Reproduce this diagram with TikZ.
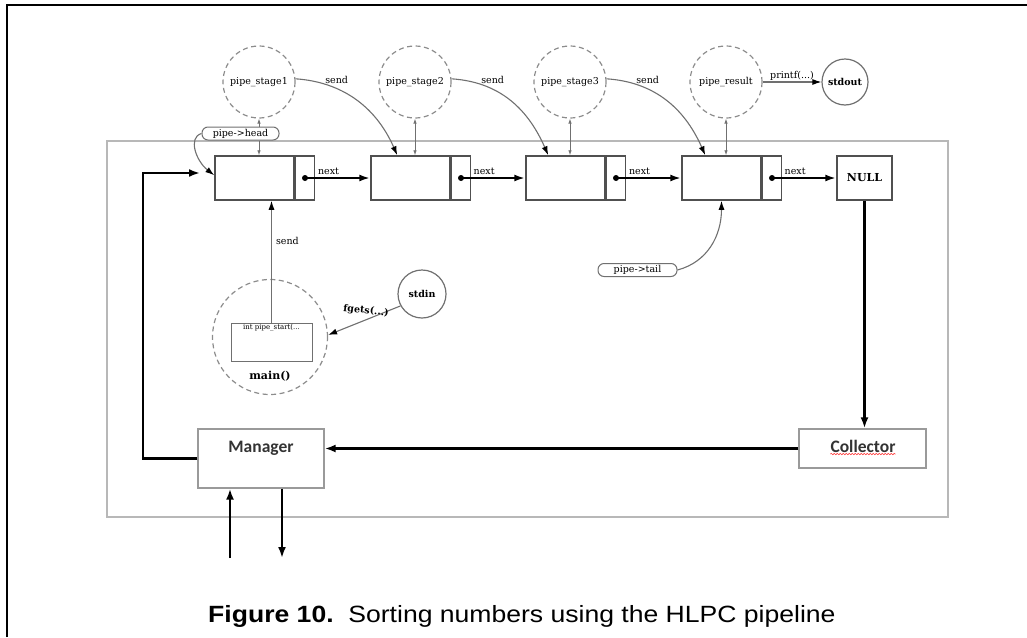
\documentclass[tikz,border=0pt]{standalone}
\usepackage{fontspec}
\setmainfont{DejaVu Serif}
\newfontfamily\capfont{Liberation Sans}
\newfontfamily\boxfont{Carlito}
\usetikzlibrary{arrows.meta,calc,decorations.pathmorphing}

\definecolor{framegrey}{HTML}{B8B8B8}
\definecolor{dashgrey}{HTML}{8C8C8C}
\definecolor{cellgrey}{HTML}{505050}
\definecolor{linkgrey}{HTML}{707070}
\definecolor{boxgrey}{HTML}{9A9A9A}

\begin{document}
\begin{tikzpicture}[x=1pt,y=-1pt,
  lbl/.style={font=\fontsize{9.5}{11}\selectfont, inner sep=1pt},
  blbl/.style={font=\fontsize{9.5}{11}\selectfont\bfseries, inner sep=1pt},
  cell/.style={draw=cellgrey, line width=1.5pt, minimum height=44pt, inner sep=0pt},
  dcell/.style={cell, minimum width=79pt},
  pcell/.style={cell, minimum width=19pt, anchor=west},
  dot/.style={circle, fill=black, inner sep=0pt, minimum size=6pt},
  stage/.style={circle, draw=dashgrey, dash pattern=on 5pt off 3.5pt, line width=1.2pt,
    minimum size=72pt, inner sep=0pt, font=\fontsize{9.5}{11}\selectfont},
  io/.style={circle, draw=linkgrey, line width=1.2pt, inner sep=0pt,
    font=\fontsize{9.5}{11}\selectfont\bfseries},
  ptr/.style={draw=linkgrey, fill=white, line width=1pt, rounded corners=6pt, inner sep=0pt,
    minimum height=13pt, font=\fontsize{9.5}{11}\selectfont},
  proc/.style={draw=boxgrey, line width=1.3pt, inner sep=0pt},
  proctext/.style={font=\boxfont\bfseries\fontsize{17.5}{20}\selectfont, text=black!80, inner sep=0pt},
  flow/.style={line width=2.6pt, -{Latex[length=11pt,width=8pt]}},
  nextarrow/.style={line width=2.2pt, -{Latex[length=11pt,width=7pt]}},
  sendarrow/.style={draw=linkgrey, line width=1.1pt, -{Latex[length=9pt,width=6pt,color=black]}},
  thinlink/.style={draw=linkgrey, line width=0.8pt},
  tinytip/.tip={Latex[length=5pt,width=3.5pt]},
]
\useasboundingbox (0,0) rectangle (1027,637);

% page edge
\draw[line width=2.5pt] (7,637) -- (7,5) -- (1027,5);

% enclosing frame of the pipeline
\draw[framegrey, line width=2pt] (107,141) rectangle (948,517);

% linked list cells
\node[dcell] (d1) at (254.5,178) {};
\node[pcell] (p1) at (d1.east) {};
\node[dcell] (d2) at (410.5,178) {};
\node[pcell] (p2) at (d2.east) {};
\node[dcell] (d3) at (565.5,178) {};
\node[pcell] (p3) at (d3.east) {};
\node[dcell] (d4) at (721.5,178) {};
\node[pcell] (p4) at (d4.east) {};
\node[cell, minimum width=55pt, font=\fontsize{11}{13}\selectfont\bfseries] (null) at (864.5,178) {NULL};

\node[dot] (n1) at (p1.center) {};
\node[dot] (n2) at (p2.center) {};
\node[dot] (n3) at (p3.center) {};
\node[dot] (n4) at (p4.center) {};

\draw[nextarrow] (n1.center) -- (d2.west) node[lbl, pos=0.36, above=1pt] {next};
\draw[nextarrow] (n2.center) -- (d3.west) node[lbl, pos=0.36, above=1pt] {next};
\draw[nextarrow] (n3.center) -- (d4.west) node[lbl, pos=0.36, above=1pt] {next};
\draw[nextarrow] (n4.center) -- (null.west) node[lbl, pos=0.36, above=1pt] {next};

% pipeline stages
\node[stage] (s1) at (259,82) {pipe\_stage1};
\node[stage] (s2) at (415,82) {pipe\_stage2};
\node[stage] (s3) at (570,82) {pipe\_stage3};
\node[stage] (res) at (726,82) {pipe\_result};
\node[io, minimum size=46pt] (out) at (845,82) {stdout};

% head and tail pointers
\node[ptr, minimum width=77pt] (head) at (240.5,133.5) {pipe->head};
\node[ptr, minimum width=79pt] (tail) at (637.5,270) {pipe->tail};

% stage <-> cell links
\draw[thinlink, tinytip-] (s1.south) -- (s1.south |- head.north);
\draw[thinlink, -tinytip] (s1.south |- head.south) -- (s1.south |- d1.north);
\draw[thinlink, tinytip-tinytip] (s2.south) -- (s2.south |- d2.north);
\draw[thinlink, tinytip-tinytip] (s3.south) -- (s3.south |- d3.north);
\draw[thinlink, tinytip-tinytip] (res.south) -- (res.south |- d4.north);

% send from one stage to the next cell
\coordinate (t2) at ($(d2.north west)+(27,0)$);
\coordinate (t3) at ($(d3.north west)+(23,0)$);
\coordinate (t4) at ($(d4.north west)+(24,0)$);
\draw[sendarrow] (s1.5) .. controls +(45,3) and +(-22,-50) .. (t2);
\draw[sendarrow] (s2.5) .. controls +(45,3) and +(-22,-50) .. (t3);
\draw[sendarrow] (s3.5) .. controls +(45,3) and +(-22,-50) .. (t4);
\node[lbl] at ($(s1.east)+(41,-2)$) {send};
\node[lbl] at ($(s2.east)+(41,-2)$) {send};
\node[lbl] at ($(s3.east)+(41,-2)$) {send};

\draw[sendarrow] (res.east) -- (out.west) node[lbl, midway, above=0pt] {printf(...)};

% pointer arrows
\coordinate (headin) at ($(d1.north west)+(0,20)$);
\draw[sendarrow] (head.west) .. controls +(-14,4) and +(-18,-14) .. (headin);
\draw[sendarrow] (tail.east) .. controls +(30,-8) and +(0,35) .. (d4.south);

% main() with its pipe_start call
\node[stage, minimum size=115pt] (main) at (270,337) {};
\node[draw=linkgrey, line width=1pt, minimum width=81pt, minimum height=38pt, inner sep=0pt] (start) at (271.5,342) {};
\node[font=\fontsize{7}{8}\selectfont, anchor=north, inner sep=1.5pt] (starttxt) at (start.north) {int pipe\_start(...};
\node[font=\fontsize{11}{13}\selectfont\bfseries, inner sep=0pt] (mainlbl) at (270,376) {main()};
\draw[sendarrow] (start.north) -- (start.north |- d1.south) node[lbl, pos=0.67, right=3pt] {send};

\node[io, minimum size=48pt] (in) at (422,294) {stdin};
\draw[sendarrow] (in.209) -- (main.2);
\node[blbl, rotate=-6] (fgetslbl) at (366,311) {fgets(...)};

% manager and collector
\node[proc, minimum width=126pt, minimum height=59pt] (man) at (261,458.5) {};
\node[proctext] (mantxt) at (261,448) {Manager};
\node[proc, minimum width=127pt, minimum height=39pt] (col) at (862.5,448.5) {};
\node[proctext] (coltxt) at (863,446) {Collector};
\draw[red!75, line width=0.6pt, decorate, decoration={snake, amplitude=0.7pt, segment length=3pt}]
  ([yshift=-2pt]coltxt.base west) -- ([yshift=-2pt]coltxt.base east);

\draw[flow] (null.south) -- (null.south |- col.north);
\draw[flow] (col.west) -- (col.west -| man.east);
\coordinate (fbend) at (143,173);
\coordinate (fbin) at (200,173);
\draw[flow] (man.west) -| (fbend) -- (fbin);

\coordinate (mgrin) at (230,558);
\coordinate (mgrout) at (282,558);
\draw[flow] (mgrin) -- (mgrin |- man.south);
\draw[flow] (mgrout |- man.south) -- (mgrout);

% caption
\node[anchor=base west, inner sep=0pt, font=\capfont\fontsize{23.5}{26}\selectfont, xscale=1.13] (cap)
  at (208,622) {\textbf{Figure 10.}\ \ Sorting numbers using the HLPC pipeline};
\end{tikzpicture}
\end{document}
